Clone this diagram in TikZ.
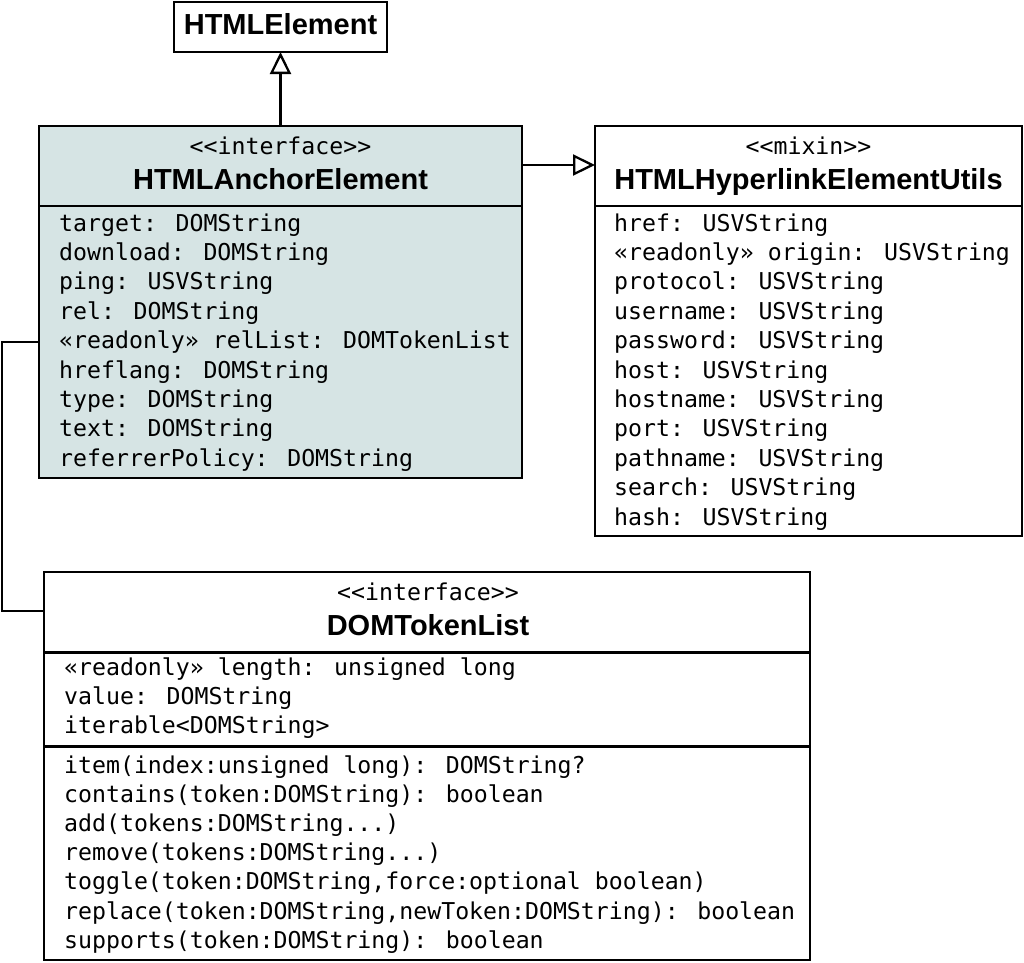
\documentclass[tikz,border=0pt]{standalone}
\usepackage{fontspec}
\setmainfont{Liberation Sans}
\newfontfamily\monof{DejaVu Sans Mono}
\usetikzlibrary{arrows.meta}
\definecolor{ifill}{RGB}{214,228,228}
\tikzset{
  cls/.style={draw=black, line width=2.3pt, inner sep=0pt, outer sep=0pt},
  sep/.style={draw=black, line width=2.3pt},
  title/.style={font=\fontsize{29}{32}\selectfont\bfseries, anchor=base, inner sep=0pt},
  stereo/.style={font=\monof\fontsize{23.2}{28}\selectfont, anchor=base, inner sep=0pt},
  attr/.style={font=\monof\fontsize{23.2}{28}\selectfont, anchor=base west, inner sep=0pt},
  inh/.style={line width=2.3pt, -{Triangle[open, length=22pt, width=21pt, line width=2.3pt]}},
  assoc/.style={line width=2.3pt},
}
\begin{document}
\begin{tikzpicture}[x=1pt, y=-1pt]
\useasboundingbox (0,0) rectangle (1024,962);

% HTMLElement
\node[cls, minimum width=213pt, minimum height=50pt] (htmlel) at (280.5,27) {};
\node[title] (htmlelT) at (280.5,34.5) {HTMLElement};

% HTMLAnchorElement
\node[cls, fill=ifill, minimum width=483pt, minimum height=352pt] (anchor) at (280.5,302) {};
\coordinate (anchorSep) at (0,206);
\draw[sep] (anchor.west |- anchorSep) -- (anchor.east |- anchorSep);
\node[stereo] (anchorS) at (280.5,154.5) {<{}<interface>{}>};
\node[title] (anchorT) at (280.5,189.5) {HTMLAnchorElement};
\foreach \t [count=\i from 0] in {target: DOMString, download: DOMString, ping: USVString, rel: DOMString, «readonly» relList: DOMTokenList, hreflang: DOMString, type: DOMString, text: DOMString, referrerPolicy: DOMString}
  \node[attr] (anchorA\i) at (59,231+29.4*\i) {\t};

% HTMLHyperlinkElementUtils
\node[cls, minimum width=427pt, minimum height=410pt] (utils) at (808.5,331) {};
\coordinate (utilsSep) at (0,206);
\draw[sep] (utils.west |- utilsSep) -- (utils.east |- utilsSep);
\node[stereo] (utilsS) at (808.5,154.5) {<{}<mixin>{}>};
\node[title] (utilsT) at (808.5,189.5) {HTMLHyperlinkElementUtils};
\foreach \t [count=\i from 0] in {href: USVString, «readonly» origin: USVString, protocol: USVString, username: USVString, password: USVString, host: USVString, hostname: USVString, port: USVString, pathname: USVString, search: USVString, hash: USVString}
  \node[attr] (utilsA\i) at (614,231+29.4*\i) {\t};

% DOMTokenList
\node[cls, minimum width=766pt, minimum height=388pt] (dom) at (427,766) {};
\coordinate (domSep1) at (0,652.5);
\coordinate (domSep2) at (0,746.5);
\draw[sep] (dom.west |- domSep1) -- (dom.east |- domSep1);
\draw[sep] (dom.west |- domSep2) -- (dom.east |- domSep2);
\node[stereo] (domS) at (428,600.5) {<{}<interface>{}>};
\node[title] (domT) at (428,635) {DOMTokenList};
\node[attr] (domA0) at (64,675) {«readonly» length: unsigned long};
\node[attr] (domA1) at (64,704.3) {value: DOMString};
\node[attr] (domA2) at (64,733.6) {iterable<DOMString>};
\node[attr] (domM0) at (64,773) {item(index:unsigned long): DOMString?};
\node[attr] (domM1) at (64,802.2) {contains(token:DOMString): boolean};
\node[attr] (domM2) at (64,831.4) {add(tokens:DOMString...)};
\node[attr] (domM3) at (64,860.6) {remove(tokens:DOMString...)};
\node[attr] (domM4) at (64,889.8) {toggle(token:DOMString,force:optional boolean)};
\node[attr] (domM5) at (64,919) {replace(token:DOMString,newToken:DOMString): boolean};
\node[attr] (domM6) at (64,948.2) {supports(token:DOMString): boolean};

% connectors
\draw[inh] (anchor.north) -- (htmlel.south);
\coordinate (mixinY) at (0,165);
\draw[inh] (anchor.east |- mixinY) -- (utils.west |- mixinY);
\coordinate (bendA) at (2,342);
\coordinate (bendB) at (2,611);
\draw[assoc] (anchor.west |- bendA) -- (bendA) -- (bendB) -- (dom.west |- bendB);
\end{tikzpicture}
\end{document}
